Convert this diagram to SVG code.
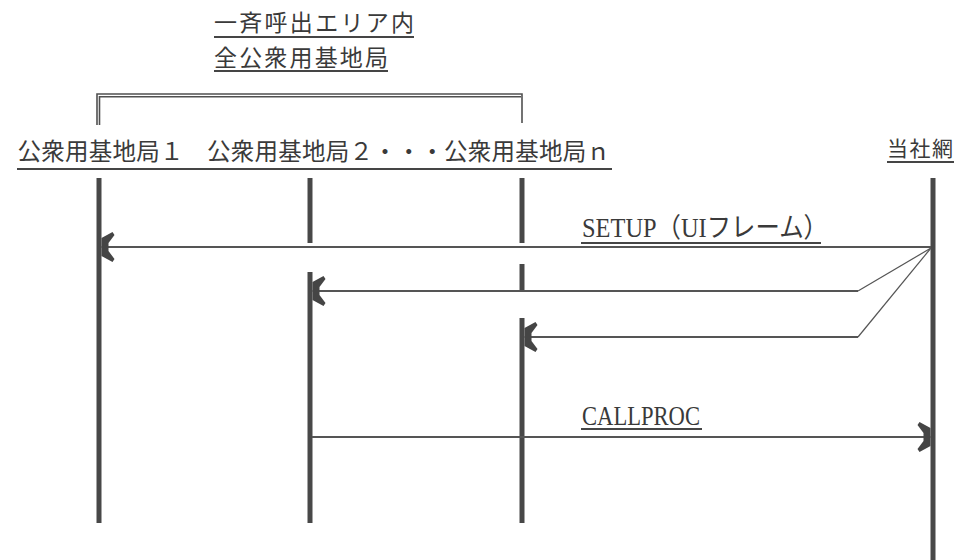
<svg xmlns="http://www.w3.org/2000/svg" width="961" height="560" viewBox="0 0 961 560">
<style>
  .jp { font-family: "Noto Sans CJK JP", "Noto Sans", sans-serif; fill: #3a3a3a; }
  .lat { font-family: "Liberation Serif", "Noto Sans CJK JP", serif; fill: #3a3a3a; }
  .life { stroke: #484848; stroke-width: 5; fill: none; }
  .ul { stroke: #454545; stroke-width: 2; fill: none; }
  .msg { stroke: #555; stroke-width: 2; fill: none; }
  .thin { stroke: #555; stroke-width: 1.2; fill: none; }
  .br { stroke: #505050; stroke-width: 1.6; fill: none; }
</style>
<defs>
  <marker id="ah" markerUnits="userSpaceOnUse" orient="auto" markerWidth="20" markerHeight="32" refX="16" refY="16" viewBox="0 0 20 32">
    <polygon points="16,7 5,1 3,4 9,12 9,20 3,28 5,31 16,25" fill="#454545"/>
  </marker>
</defs>
<rect width="961" height="560" fill="#ffffff"/>

<g id="title">
  <text class="jp" x="214" y="31" font-size="23" textLength="200" lengthAdjust="spacing">一斉呼出エリア内</text>
  <line class="ul" x1="214" y1="37" x2="414" y2="37"/>
  <text class="jp" x="214" y="66" font-size="23" textLength="174" lengthAdjust="spacing">全公衆用基地局</text>
  <line class="ul" x1="214" y1="71" x2="388" y2="71"/>
</g>

<g id="bracket">
  <path class="br" d="M97,125 V94 H522 V123"/>
  <path class="br" d="M99.5,125 V96.8 H521"/>
</g>

<g id="node-bs1">
  <text class="jp" x="17.5" y="160" font-size="23.5" textLength="165.9" lengthAdjust="spacing">公衆用基地局１</text>
  <line class="ul" x1="17" y1="169" x2="208" y2="169"/>
  <line class="life" x1="99" y1="178" x2="99" y2="523"/>
</g>

<g id="node-bs2">
  <text class="jp" x="207.1" y="160" font-size="23.5" textLength="237" lengthAdjust="spacing">公衆用基地局２・・・</text>
  <line class="ul" x1="207" y1="169" x2="445" y2="169"/>
  <line class="life" x1="310" y1="178" x2="310" y2="243"/>
  <line class="life" x1="310" y1="272" x2="310" y2="523"/>
</g>

<g id="node-bsn">
  <text class="jp" x="444.1" y="160" font-size="23.5" textLength="165.9" lengthAdjust="spacing">公衆用基地局ｎ</text>
  <line class="ul" x1="444" y1="169" x2="612" y2="169"/>
  <line class="life" x1="522" y1="178" x2="522" y2="243"/>
  <line class="life" x1="522" y1="264" x2="522" y2="290"/>
  <line class="life" x1="522" y1="318" x2="522" y2="523"/>
</g>

<g id="node-net">
  <text class="jp" x="887" y="156" font-size="21" textLength="66" lengthAdjust="spacing">当社網</text>
  <line class="ul" x1="887" y1="162" x2="954" y2="162"/>
  <line class="life" x1="933" y1="178" x2="933" y2="560"/>
</g>

<g id="connectors">
  <g id="msg-setup">
    <path class="msg" d="M931,247 H101.5" marker-end="url(#ah)"/>
    <text class="lat" x="582" y="237" font-size="27" textLength="246" lengthAdjust="spacingAndGlyphs">SETUP（UIフレーム）</text>
    <line class="ul" x1="581" y1="243" x2="821" y2="243"/>
  </g>
  <g id="msg-setup-2">
    <path class="thin" d="M931,248 L858,291"/>
    <path class="msg" d="M858,291 H312.5" marker-end="url(#ah)"/>
  </g>
  <g id="msg-setup-n">
    <path class="thin" d="M931,248 L858,337"/>
    <path class="msg" d="M858,337 H524.5" marker-end="url(#ah)"/>
  </g>
  <g id="msg-callproc">
    <path class="msg" d="M312,437 H930.5" marker-end="url(#ah)"/>
    <text class="lat" x="582" y="425" font-size="28" textLength="118" lengthAdjust="spacingAndGlyphs">CALLPROC</text>
    <line class="ul" x1="581" y1="429" x2="702" y2="429"/>
  </g>
</g>
</svg>
